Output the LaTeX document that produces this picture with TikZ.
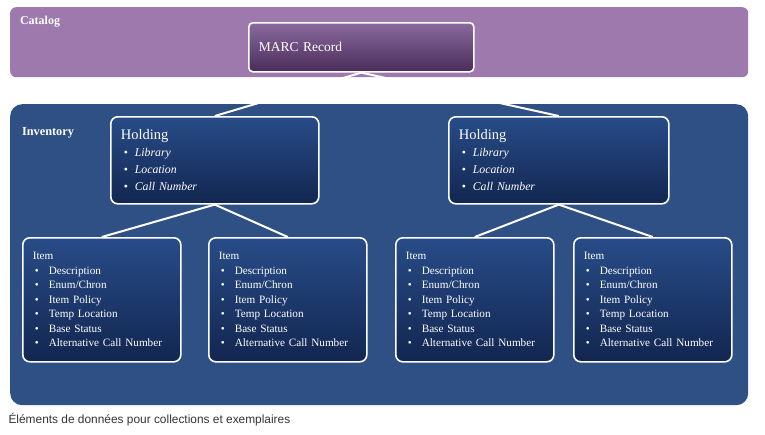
\documentclass[tikz,border=0pt]{standalone}
\usepackage{fontspec}
\setmainfont{Liberation Serif}
\setsansfont{Liberation Sans}
\usetikzlibrary{positioning}
\definecolor{catalog}{RGB}{157,121,173}
\definecolor{marctop}{RGB}{138,106,158}
\definecolor{marcbot}{RGB}{74,44,90}
\definecolor{inventory}{RGB}{46,80,133}
\definecolor{boxtop}{RGB}{40,76,136}
\definecolor{boxbot}{RGB}{18,38,80}
\definecolor{captiongray}{RGB}{51,51,51}
\newcommand{\hitem}[1]{\\\hspace*{3pt}\makebox[11pt][l]{\textbullet}\textit{#1}}
\newcommand{\iitem}[1]{\\\hspace*{2pt}\makebox[14pt][l]{\textbullet}#1}

\begin{document}
\begin{tikzpicture}[x=1pt,y=-1pt,
band/.style={anchor=north west,inner sep=0pt},
record/.style={anchor=north west,draw=white,line width=1.6pt,rounded corners=7pt,
  top color=boxtop,bottom color=boxbot,text=white,align=left,inner xsep=10pt,inner ysep=0pt},
holding/.style={record,minimum width=208pt,minimum height=87pt,
  font=\fontsize{11.8}{17}\selectfont},
item/.style={record,text width=138pt,minimum height=124pt,
  font=\fontsize{11.2}{14.5}\selectfont},
link/.style={white,line width=2pt}]
\useasboundingbox (0,0) rectangle (765,434);

% the two bands
\node (Catalog) [band,fill=catalog,rounded corners=6pt,minimum width=738pt,minimum height=70pt] at (10,7) {};
\node (Inventory) [band,fill=inventory,rounded corners=12pt,minimum width=738pt,minimum height=301pt] at (10,104) {};
\node (CatalogLabel) [anchor=west,text=white,font=\bfseries\fontsize{12}{14}\selectfont] at (16.5,22) {Catalog};
\node (InventoryLabel) [anchor=west,text=white,font=\bfseries\fontsize{12.3}{14}\selectfont] at (18.5,133) {Inventory};

% record, holdings, items
\node (Marc) [record,rounded corners=4pt,top color=marctop,bottom color=marcbot,
  text width=205pt,minimum height=49pt,font=\fontsize{13.5}{16}\selectfont] at (248,22) {MARC Record};

\node (HoldingA) [holding,text width=188pt] at (110,116)
  {{\fontsize{14.5}{17}\selectfont Holding}\hitem{Library}\hitem{Location}\hitem{Call Number}};
\node (HoldingB) [holding,text width=200pt,minimum width=220pt] at (448,116)
  {{\fontsize{14.5}{17}\selectfont Holding}\hitem{Library}\hitem{Location}\hitem{Call Number}};

\node (ItemA) [item] at (22,237)
  {Item\iitem{Description}\iitem{Enum/Chron}\iitem{Item Policy}\iitem{Temp Location}\iitem{Base Status}\iitem{Alternative Call Number}};
\node (ItemB) [item] at (208,237)
  {Item\iitem{Description}\iitem{Enum/Chron}\iitem{Item Policy}\iitem{Temp Location}\iitem{Base Status}\iitem{Alternative Call Number}};
\node (ItemC) [item] at (395,237)
  {Item\iitem{Description}\iitem{Enum/Chron}\iitem{Item Policy}\iitem{Temp Location}\iitem{Base Status}\iitem{Alternative Call Number}};
\node (ItemD) [item] at (573,237)
  {Item\iitem{Description}\iitem{Enum/Chron}\iitem{Item Policy}\iitem{Temp Location}\iitem{Base Status}\iitem{Alternative Call Number}};

% connectors
\draw [link] (Marc.south) -- (HoldingA.north);
\draw [link] (Marc.south) -- (HoldingB.north);
\draw [link] (HoldingA.south) -- (ItemA.north);
\draw [link] (HoldingA.south) -- (ItemB.north);
\draw [link] (HoldingB.south) -- (ItemC.north);
\draw [link] (HoldingB.south) -- (ItemD.north);

\node (Caption) [anchor=west,text=captiongray,font=\sffamily\fontsize{11.9}{13}\selectfont] at (5,420)
  {Éléments de données pour collections et exemplaires};
\end{tikzpicture}
\end{document}
